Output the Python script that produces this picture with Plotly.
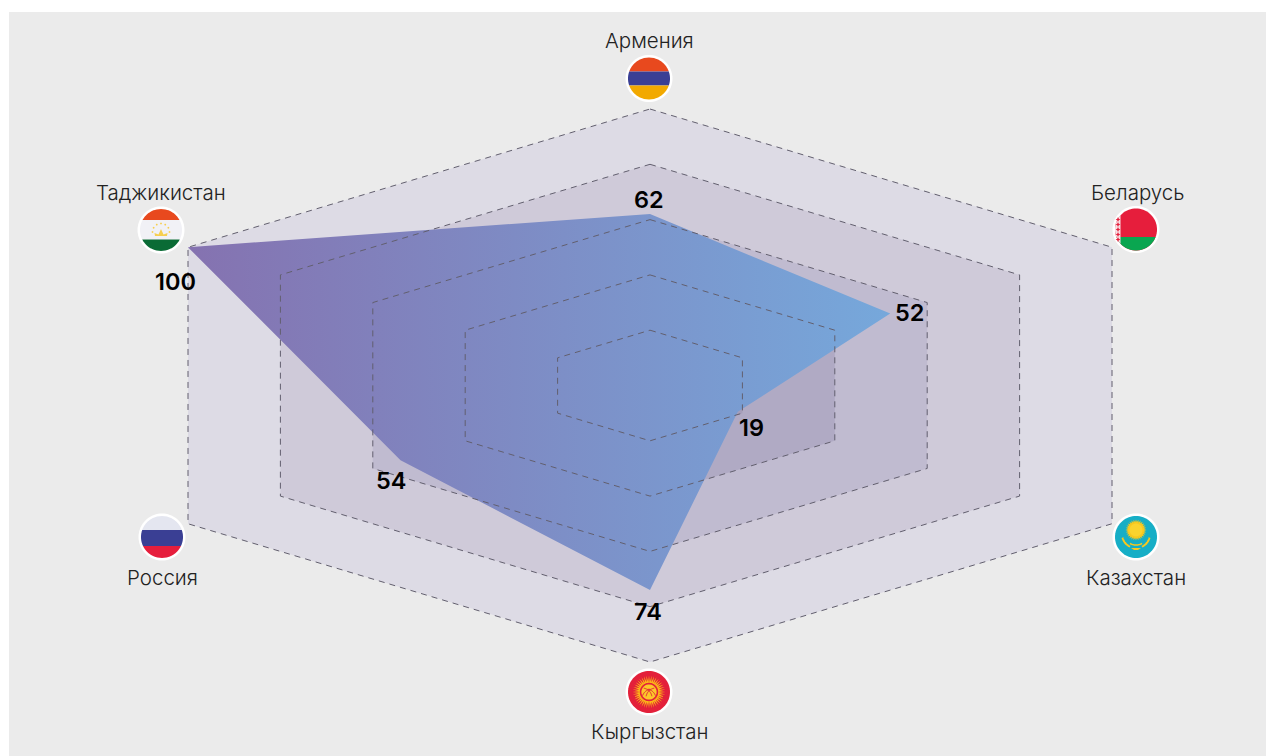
import numpy as np
import plotly.graph_objects as go

W, H = 1266, 756
CX, CY, UX, UY = 650.0, 385.5, 4.62, 2.765

countries = ["Армения", "Беларусь", "Казахстан", "Кыргызстан", "Россия", "Таджикистан"]
values = [62, 52, 19, 74, 54, 100]
levels = [100, 80, 60, 40, 20]
level_colors = ["#dddbe5", "#cfcad9", "#c0bbd0", "#b0aac4", "#a59eba"]
angles = np.radians([0, 60, 120, 180, 240, 300])
grad_left, grad_right = "#8572b0", "#76a8db"

value_shift = [(-1, 15), (19, 1), (14, -16), (-2, -21), (-10, -20), (-13, -34)]
label_pos = [(649, 41), (1137, 192), (1136, 577), (649, 731), (162, 577), (161, 192)]
flag_pos = [(649, 78.5), (1136, 229.5), (1136, 537), (649, 692), (162, 537), (161, 230)]


def ring(vals):
    v = np.asarray(list(vals) + [vals[0]], float)
    a = np.append(angles, angles[0])
    return v * np.sin(a) / np.sin(np.radians(60)), v * np.cos(a)


fig = go.Figure()
for lv, col in zip(levels, level_colors):
    x, y = ring([lv] * 6)
    fig.add_trace(go.Scatter(x=x, y=y, mode="none", fill="toself", fillcolor=col, hoverinfo="skip"))

x, y = ring(values)
fig.add_trace(go.Scatter(
    x=x, y=y, mode="none", fill="toself", hoverinfo="skip",
    fillgradient=dict(type="horizontal", colorscale=[[0, grad_left], [1, grad_right]]),
))
for lv in levels:
    x, y = ring([lv] * 6)
    fig.add_trace(go.Scatter(x=x, y=y, mode="lines", hoverinfo="skip",
                             line=dict(color="#625f6e", width=1, dash="6px,5px")))

# ---------- pixel helpers for the decorative flag icons ----------
shapes = []


def path(pts, fill=None, line=None, lw=0, close=True):
    s = "M" + "L".join(f"{px / W:.5f},{1 - py / H:.5f}" for px, py in pts) + ("Z" if close else "")
    shapes.append(dict(type="path", xref="paper", yref="paper", path=s, layer="above",
                       fillcolor=fill if close else None,
                       line=dict(color=line or "rgba(0,0,0,0)", width=lw)))


def disk(cx, cy, r, fill):
    t = np.linspace(0, 2 * np.pi, 73)[:-1]
    path(list(zip(cx + r * np.cos(t), cy + r * np.sin(t))), fill)


def band(cx, cy, r, y0, y1, fill):
    ys = np.linspace(y0, y1, 25)
    half = np.sqrt(np.maximum(r * r - ys * ys, 0))
    path(list(zip(cx + half, cy + ys)) + list(zip(cx - half[::-1], cy + ys[::-1])), fill)


def hoist(cx, cy, r, xr, fill):
    lim = np.sqrt(r * r - xr * xr)
    ys = np.linspace(-lim, lim, 25)
    xs = -np.sqrt(r * r - ys * ys)
    path([(cx + xr, cy + lim), (cx + xr, cy - lim)] + list(zip(cx + xs, cy + ys)), fill)


def star(cx, cy, ro, ri, n, fill):
    t = np.linspace(0, 2 * np.pi, 2 * n, endpoint=False)
    rr = np.where(np.arange(2 * n) % 2 == 0, ro, ri)
    path(list(zip(cx + rr * np.cos(t), cy + rr * np.sin(t))), fill)


def arc(cx, cy, r, a0, a1, col, lw):
    t = np.radians(np.linspace(a0, a1, 20))
    path(list(zip(cx + r * np.cos(t), cy + r * np.sin(t))), line=col, lw=lw, close=False)


R = 21
for (cx, cy) in flag_pos:
    disk(cx, cy, R + 2.5, "#ffffff")

RED, GOLD = "#e61e3c", "#f8c81e"
# Armenia
cx, cy = flag_pos[0]
band(cx, cy, R, -R, -7, "#e8491e"); band(cx, cy, R, -7, 7, "#3a3f94"); band(cx, cy, R, 7, R, "#f2a900")
# Belarus
cx, cy = flag_pos[1]
disk(cx, cy, R, RED); band(cx, cy, R, 7.5, R, "#0aa650")
hoist(cx, cy, R, -15.5, "#f7dfe3")
for dy in range(-10, 11, 5):
    star(cx - 18, cy + dy, 2.4, 1.1, 4, RED)
# Kazakhstan
cx, cy = flag_pos[2]
disk(cx, cy, R, "#16aec6")
star(cx, cy - 7, 10.5, 8, 28, GOLD); disk(cx, cy - 7, 6.4, "#fbd32e")
arc(cx, cy - 3, 14, 15, 65, GOLD, 2); arc(cx, cy - 3, 14, 115, 165, GOLD, 2)
arc(cx, cy - 4, 12, 60, 120, GOLD, 1.5)
path([(cx - 5, cy + 11), (cx + 5, cy + 11), (cx + 2, cy + 13), (cx - 2, cy + 13)], GOLD)
# Kyrgyzstan
cx, cy = flag_pos[3]
disk(cx, cy, R, "#e3203a")
star(cx, cy, 16.5, 10, 40, "#fbb917")
disk(cx, cy, 9.2, "#e3203a"); disk(cx, cy, 7.6, "#fcc72a")
arc(cx - 7, cy + 6, 10, -80, -10, "#e3203a", 1); arc(cx + 7, cy + 6, 10, 190, 260, "#e3203a", 1)
arc(cx - 3, cy + 7, 10, -80, -20, "#e3203a", 1); arc(cx + 3, cy + 7, 10, 200, 260, "#e3203a", 1)
# Russia
cx, cy = flag_pos[4]
band(cx, cy, R, -R, -7, "#e4e6f0"); band(cx, cy, R, -7, 9, "#3a3f94"); band(cx, cy, R, 9, R, RED)
# Tajikistan
cx, cy = flag_pos[5]
band(cx, cy, R, -R, -10, "#e8491e"); band(cx, cy, R, -10, 9.5, "#f1f1f6"); band(cx, cy, R, 9.5, R, "#0a6b35")
for a in np.radians([-180, -150, -120, -90, -60, -30, 0]):
    disk(cx + 8.5 * np.cos(a), cy + 2 + 8.5 * np.sin(a), 0.9, "#f6cf50")
path([(cx - 6, cy + 6), (cx + 6, cy + 6), (cx + 6.5, cy + 3), (cx + 2.5, cy + 4.5), (cx, cy - 1),
      (cx - 2.5, cy + 4.5), (cx - 6.5, cy + 3)], "#f6cf50")

panel = dict(type="rect", xref="paper", yref="paper", x0=9 / W, x1=1, y0=0, y1=1 - 12 / H,
             fillcolor="#ebebeb", line_width=0, layer="below")

annotations = []
vx, vy = ring(values)
for i, v in enumerate(values):
    sx, sy = value_shift[i]
    annotations.append(dict(x=vx[i], y=vy[i], xref="x", yref="y", text=str(v), showarrow=False,
                            xshift=sx, yshift=sy, xanchor="center", yanchor="middle",
                            font=dict(family="Inter", size=23.5, color="#000000", weight=600)))
for name, (px, py) in zip(countries, label_pos):
    annotations.append(dict(x=px / W, y=1 - py / H, xref="paper", yref="paper", text=name,
                            showarrow=False, xanchor="center", yanchor="middle",
                            font=dict(family="Inter", size=20.5, color="#222222", weight=300)))

fig.update_layout(
    width=W, height=H, margin=dict(l=0, r=0, t=0, b=0), autosize=False,
    paper_bgcolor="#ffffff", plot_bgcolor="rgba(0,0,0,0)", showlegend=False,
    xaxis=dict(range=[-CX / UX, (W - CX) / UX], visible=False, fixedrange=True),
    yaxis=dict(range=[-(H - CY) / UY, CY / UY], visible=False, fixedrange=True),
    shapes=[panel] + shapes, annotations=annotations,
)
fig.write_html("out.html", config={"displayModeBar": False},
               post_script="document.body.style.margin='0';document.body.style.overflow='hidden';")
